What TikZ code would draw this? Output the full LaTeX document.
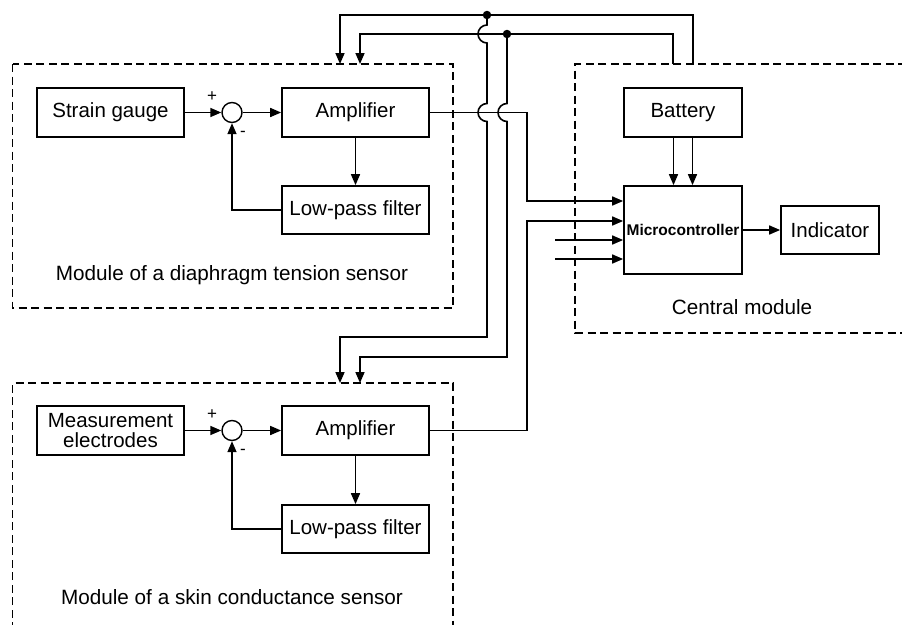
\documentclass[tikz,border=0pt]{standalone}
\usepackage{fontspec}
\setmainfont{Liberation Sans}
\usetikzlibrary{arrows.meta}
\begin{document}
\begin{tikzpicture}[x=1pt,y=-1pt,
  blk/.style={draw, line width=1.7pt, minimum width=147pt, minimum height=49pt, inner sep=0pt, font=\fontsize{20.5}{20.5}\selectfont, align=center},
  sumc/.style={draw, circle, line width=1.4pt, minimum size=20pt, inner sep=0pt},
  wire/.style={line width=1.6pt},
  arr/.style={wire, -{Triangle[length=11pt,width=9pt]}},
  modbox/.style={line width=1.5pt, dash pattern=on 8pt off 4.5pt},
  lbl/.style={font=\fontsize{20.7}{20.7}\selectfont, inner sep=0pt},
  sgn/.style={font=\fontsize{17}{17}\selectfont, inner sep=0pt},
  dot/.style={circle, fill, minimum size=8.5pt, inner sep=0pt}
]
\useasboundingbox (0,0) rectangle (902,624);

% module boxes
\draw[modbox] (12.5,64) rectangle (453,308);
\draw[modbox] (12.5,630) -- (12.5,383) -- (453,383) -- (453,630);
\draw[modbox] (906,64) -- (575,64) -- (575,333) -- (906,333);

\node[lbl] (l1) at (232,275) {Module of a diaphragm tension sensor};
\node[lbl] (l2) at (232,597) {Module of a skin conductance sensor};
\node[lbl] (l3) at (742,307) {Central module};

% module 1
\node[blk] (sg1) at (110.5,112.5) {Strain gauge};
\node[sumc] (s1) at (232,112.5) {};
\node[blk] (amp1) at (355.5,112.5) {Amplifier};
\node[blk, minimum height=48pt] (lpf1) at (355.5,210) {Low-pass filter};
\draw[arr] (sg1) -- (s1);
\draw[arr] (s1) -- (amp1);
\draw[arr] (amp1) -- (lpf1);
\draw[arr] (lpf1.west) -| (s1.south);
\node[sgn] (p1) at (212,97) {+};
\node[sgn] (m1) at (243,134) {-};

% module 2
\node[blk] (me2) at (110.5,430.5) {Measurement\\electrodes};
\node[sumc] (s2) at (232,430.5) {};
\node[blk] (amp2) at (355.5,430.5) {Amplifier};
\node[blk, minimum height=48pt] (lpf2) at (355.5,529) {Low-pass filter};
\draw[arr] (me2) -- (s2);
\draw[arr] (s2) -- (amp2);
\draw[arr] (amp2) -- (lpf2);
\draw[arr] (lpf2.west) -| (s2.south);
\node[sgn] (p2) at (212,415) {+};
\node[sgn] (m2) at (243,452) {-};

% central module
\node[blk, minimum width=118pt] (bat) at (683,112.5) {Battery};
\node[blk, minimum width=118pt, minimum height=88pt, font=\bfseries\fontsize{15.5}{16}\selectfont] (mc) at (683,230) {Microcontroller};
\node[blk, minimum width=98pt, minimum height=48pt] (ind) at (830,230) {Indicator};
\draw[arr] (mc) -- (ind);
\draw[arr] ([xshift=-9.5pt]bat.south) -- ([xshift=-9.5pt]mc.north);
\draw[arr] ([xshift=9.5pt]bat.south) -- ([xshift=9.5pt]mc.north);

% power distribution wires
\coordinate (cA) at (693,64);
\coordinate (cB) at (673,64);
\coordinate (t1) at (340,64);
\coordinate (t2) at (360,64);
\coordinate (b1) at (340,383);
\coordinate (b2) at (360,383);
\coordinate (k1) at (487,337);
\coordinate (k2) at (507,357);
\node[dot] (d1) at (487,15) {};
\node[dot] (d2) at (507,34) {};
\draw[arr] (cA) |- (d1.center) -| (t1);
\draw[arr] (cB) |- (d2.center) -| (t2);
\draw[arr] (d1.center) -- (487,25) arc[start angle=90,end angle=270,radius=9pt]
  -- (487,103.5) arc[start angle=90,end angle=270,radius=9pt] -- (k1) -| (b1);
\draw[arr] (d2.center) -- (507,103.5) arc[start angle=90,end angle=270,radius=9pt]
  -- (k2) -| (b2);

% signal wires to the microcontroller
\coordinate (j1) at (527,112.5);
\coordinate (j2) at (527,430.5);
\coordinate (e3) at (555,240);
\coordinate (e4) at (555,259);
\draw[arr] (amp1.east) -- (j1) |- ([yshift=29pt]mc.west);
\draw[arr] (amp2.east) -- (j2) |- ([yshift=9pt]mc.west);
\draw[arr] (e3) -- (e3 -| mc.west);
\draw[arr] (e4) -- (e4 -| mc.west);
\end{tikzpicture}
\end{document}
